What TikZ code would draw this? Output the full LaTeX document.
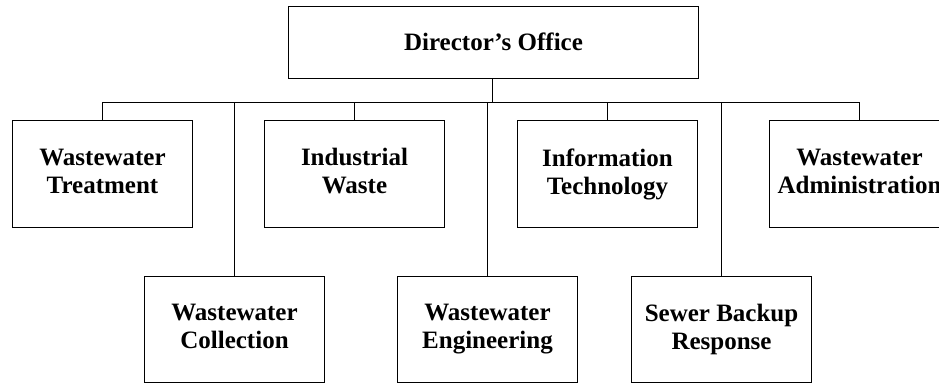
\documentclass[tikz,border=0pt]{standalone}
\usepackage{fontspec}
\setmainfont{Liberation Serif}
\newcommand\capstrut{\rule[-5.5pt]{0pt}{27.5pt}}
\begin{document}
\begin{tikzpicture}[x=1pt,y=-1pt,
  unit/.style={draw=black,line width=1pt,minimum width=180pt,minimum height=107pt,
    inner sep=0pt,align=center,anchor=north west,
    font=\fontsize{25}{28}\selectfont\bfseries,
    execute at begin node=\capstrut, execute at end node=\capstrut},
  link/.style={draw=black,line width=1pt}]
\useasboundingbox (0,0) rectangle (939,383);
\begin{scope}
\clip (0,0) rectangle (939,383);
\node[unit,minimum width=410pt,minimum height=72pt] (dir) at (288,6) {Director’s Office};
\node[unit] (wt) at (12,120) {Wastewater\\Treatment};
\node[unit] (iw) at (264,120) {Industrial\\Waste};
\node[unit] (it) at (517,120) {Information\\Technology};
\node[unit] (wa) at (769,120) {Wastewater\\Administration};
\node[unit,minimum height=106pt] (wc) at (144,276) {Wastewater\\Collection};
\node[unit,minimum height=106pt] (we) at (397,276) {Wastewater\\Engineering};
\node[unit,minimum height=106pt] (sb) at (631,276) {Sewer Backup\\Response};
\coordinate (bl) at (102,102);
\coordinate (br) at (859,102);
\draw[link] (dir.south -| 492,0) -- (492,102);
\draw[link] (bl) -- (br);
\draw[link] (bl) -- (bl |- wt.north);
\draw[link] (354,102) -- (iw.north -| 354,0);
\draw[link] (607,102) -- (it.north -| 607,0);
\draw[link] (br) -- (br |- wa.north);
\draw[link] (234,102) -- (wc.north -| 234,0);
\draw[link] (487,102) -- (we.north -| 487,0);
\draw[link] (721,102) -- (sb.north -| 721,0);
\end{scope}
\end{tikzpicture}
\end{document}
